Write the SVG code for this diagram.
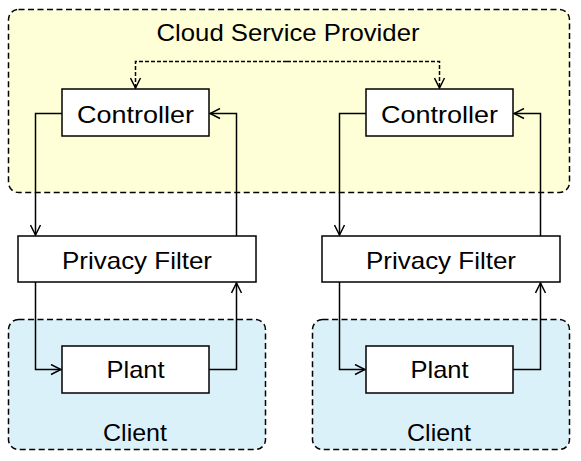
<svg xmlns="http://www.w3.org/2000/svg" width="581" height="461" viewBox="0 0 581 461">
<defs>
<marker id="arr" viewBox="0 0 12 12" refX="11" refY="6" markerWidth="12" markerHeight="12" markerUnits="userSpaceOnUse" orient="auto">
<path d="M1,1 L11,6 L1,11" fill="none" stroke="#000" stroke-width="1.5"/>
</marker>
</defs>
<style>
text{font-family:"Liberation Sans",Arial,sans-serif;fill:#000;text-anchor:middle}
.region{stroke:#000;stroke-width:1.5;stroke-dasharray:6,3.5}
.cloud{fill:#FFFFD7}
.client{fill:#DAF1FA}
.box{fill:#fff;stroke:#000;stroke-width:1.5}
.lbl{font-size:24px}
.conn{fill:none;stroke:#000;stroke-width:1.5;marker-end:url(#arr)}
.dash{stroke-dasharray:4,2}
</style>
<g id="cloud-provider">
<rect class="region cloud" x="8.5" y="9.5" width="561" height="183" rx="10"/>
<text class="lbl" x="288" y="41" textLength="263" lengthAdjust="spacingAndGlyphs">Cloud Service Provider</text>
</g>
<g id="client-left">
<rect class="region client" x="8.5" y="319.5" width="257" height="130" rx="10"/>
<text class="lbl" x="135" y="441" textLength="64" lengthAdjust="spacingAndGlyphs">Client</text>
</g>
<g id="client-right">
<rect class="region client" x="312.5" y="319.5" width="257" height="130" rx="10"/>
<text class="lbl" x="439" y="441" textLength="64" lengthAdjust="spacingAndGlyphs">Client</text>
</g>
<g id="controller-left">
<rect class="box" x="62" y="89" width="147" height="47"/>
<text class="lbl" x="135.5" y="123" textLength="117" lengthAdjust="spacingAndGlyphs">Controller</text>
</g>
<g id="controller-right">
<rect class="box" x="366" y="89" width="147" height="47"/>
<text class="lbl" x="439.5" y="123" textLength="117" lengthAdjust="spacingAndGlyphs">Controller</text>
</g>
<g id="privacy-filter-left">
<rect class="box" x="18" y="236" width="238" height="46"/>
<text class="lbl" x="137" y="269" textLength="150" lengthAdjust="spacingAndGlyphs">Privacy Filter</text>
</g>
<g id="privacy-filter-right">
<rect class="box" x="322" y="236" width="238" height="46"/>
<text class="lbl" x="441" y="269" textLength="150" lengthAdjust="spacingAndGlyphs">Privacy Filter</text>
</g>
<g id="plant-left">
<rect class="box" x="62" y="346" width="147" height="47"/>
<text class="lbl" x="135.5" y="378" textLength="58" lengthAdjust="spacingAndGlyphs">Plant</text>
</g>
<g id="plant-right">
<rect class="box" x="366" y="346" width="147" height="47"/>
<text class="lbl" x="439.5" y="378" textLength="58" lengthAdjust="spacingAndGlyphs">Plant</text>
</g>
<g id="connectors">
<path class="conn dash" d="M287,61.5 L135.5,61.5 L135.5,88"/>
<path class="conn dash" d="M287,61.5 L439.5,61.5 L439.5,88"/>
<path class="conn" d="M62,113.5 L35.5,113.5 L35.5,235"/>
<path class="conn" d="M236.5,236 L236.5,113.5 L210,113.5"/>
<path class="conn" d="M366,113.5 L339.5,113.5 L339.5,235"/>
<path class="conn" d="M540.5,236 L540.5,113.5 L514,113.5"/>
<path class="conn" d="M35.5,282 L35.5,369.5 L61,369.5"/>
<path class="conn" d="M209,369.5 L236.5,369.5 L236.5,283"/>
<path class="conn" d="M339.5,282 L339.5,369.5 L365,369.5"/>
<path class="conn" d="M513,369.5 L540.5,369.5 L540.5,283"/>
</g>
</svg>
